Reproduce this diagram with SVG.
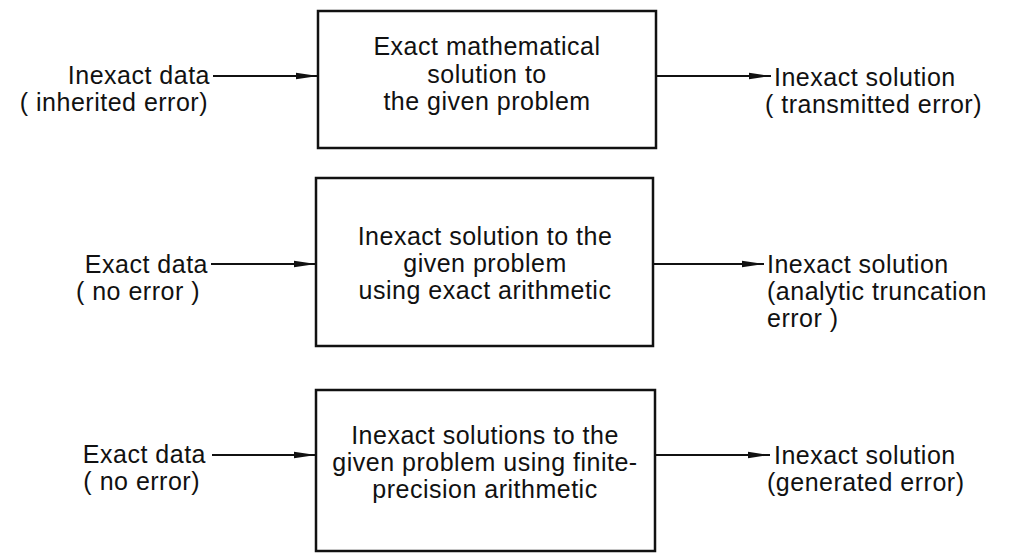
<svg xmlns="http://www.w3.org/2000/svg" width="1011" height="557" viewBox="0 0 1011 557">
<defs>
<marker id="ah" markerUnits="userSpaceOnUse" markerWidth="24" markerHeight="10" refX="22" refY="5" orient="auto">
<path d="M0,1.8 L22,5 L0,8.2 Z" fill="#111"/>
</marker>
<style>
text{font-family:"Liberation Sans",Arial,sans-serif;font-size:25px;fill:#111;letter-spacing:0.5px}
.box{fill:#fff;stroke:#111;stroke-width:2.5}
.c{text-anchor:middle}
.e{text-anchor:end}
.conn line{stroke:#111;stroke-width:2.2;marker-end:url(#ah)}
</style>
</defs>
<rect width="1011" height="557" fill="#fff"/>
<g id="in1"><text x="210" y="84" class="e">Inexact data</text><text x="208" y="111" class="e">( inherited error)</text></g>
<g id="box1"><rect class="box" x="318" y="11" width="338" height="137"/>
<text x="487" y="55" class="c">Exact mathematical</text><text x="487" y="83" class="c">solution to</text><text x="487" y="110" class="c">the given problem</text></g>
<g id="out1"><text x="774" y="86">Inexact solution</text><text x="765" y="113">( transmitted error)</text></g>

<g id="in2"><text x="208" y="273" class="e">Exact data</text><text x="200" y="300" class="e">( no error )</text></g>
<g id="box2"><rect class="box" x="316" y="178" width="337" height="168"/>
<text x="485" y="245" class="c">Inexact solution to the</text><text x="485" y="272" class="c">given problem</text><text x="485" y="299" class="c">using exact arithmetic</text></g>
<g id="out2"><text x="767" y="273">Inexact solution</text><text x="767" y="300">(analytic truncation</text><text x="767" y="327">error )</text></g>

<g id="in3"><text x="206" y="463" class="e">Exact data</text><text x="200" y="490" class="e">( no error)</text></g>
<g id="box3"><rect class="box" x="316" y="390" width="339" height="161"/>
<text x="485" y="444" class="c">Inexact solutions to the</text><text x="485" y="471" class="c">given problem using finite-</text><text x="485" y="498" class="c">precision arithmetic</text></g>
<g id="out3"><text x="774" y="464">Inexact solution</text><text x="767" y="491">(generated error)</text></g>

<g class="conn" id="connectors">
<line x1="213" y1="76" x2="318" y2="76"/>
<line x1="656" y1="76" x2="771" y2="76"/>
<line x1="211" y1="264" x2="316" y2="264"/>
<line x1="653" y1="264" x2="764" y2="264"/>
<line x1="212" y1="455" x2="316" y2="455"/>
<line x1="655" y1="455" x2="770" y2="455"/>
</g>
</svg>
